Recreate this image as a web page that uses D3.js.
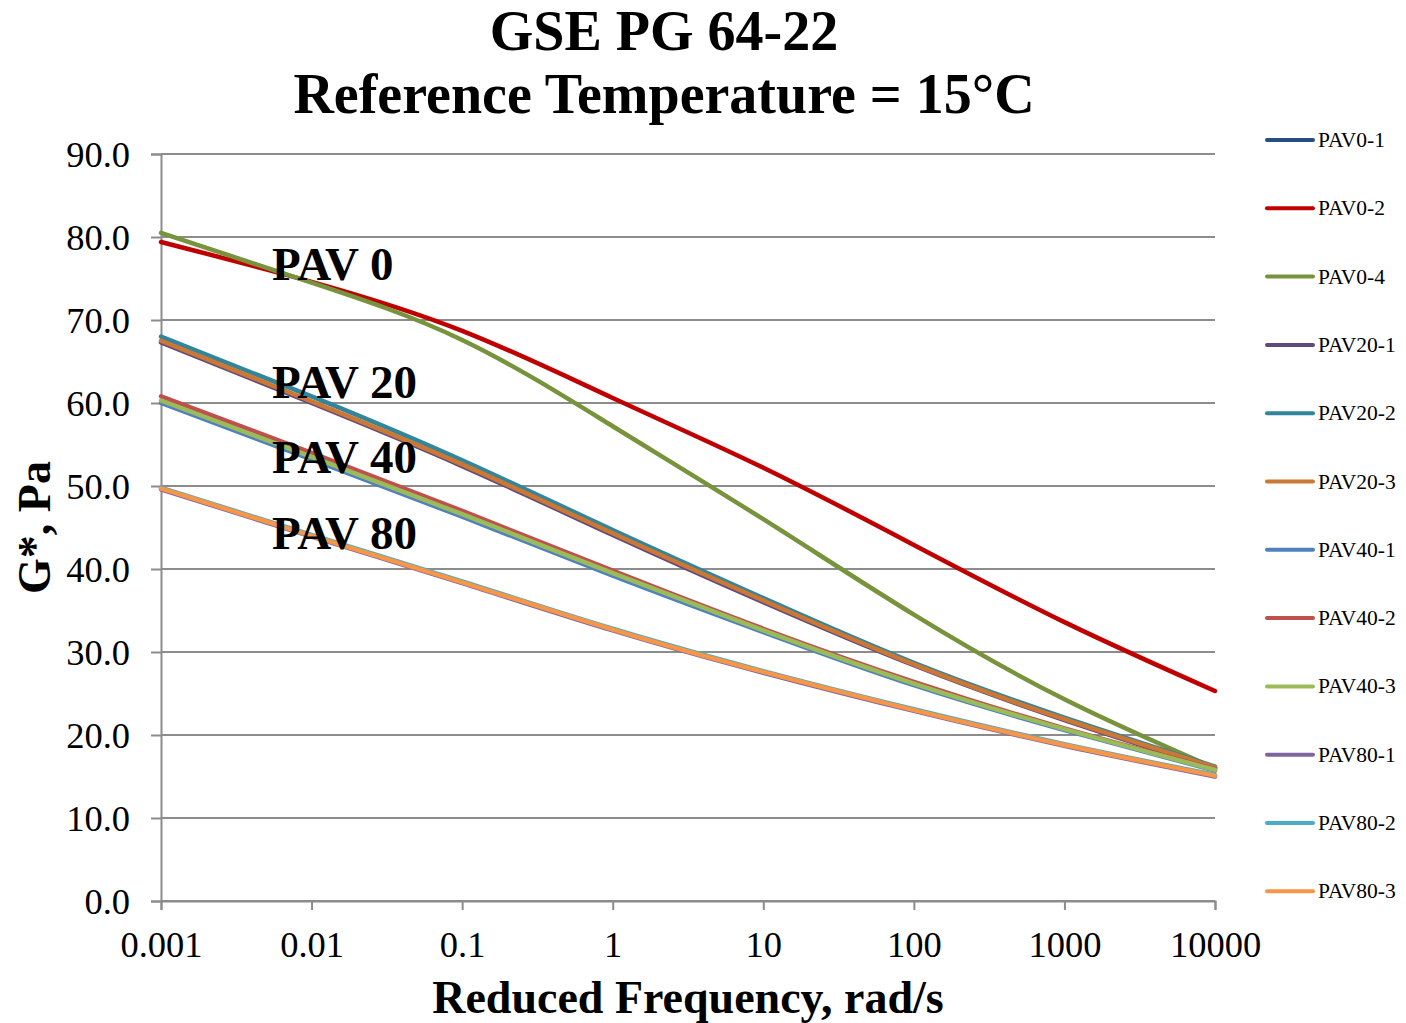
<!DOCTYPE html>
<html>
<head>
<meta charset="utf-8">
<script src="https://cdn.jsdelivr.net/npm/d3@7"></script>
<style>
  body { margin: 0; background: #fff; }
  svg { display: block; font-family: "Liberation Serif", "Times New Roman", serif; }
</style>
</head>
<body>
<svg id="chart" width="1406" height="1023"></svg>
<script>
// reduced frequencies (rad/s) where values were read
const freqs = [0.001, 0.01, 0.1, 1, 10, 100, 1000, 10000];

// G* readings per sample
const pav0_1 = [];  // listed in legend, no visible curve
const pav0_2 = [79.4, 74.6, 68.7, 60.6, 52.2, 42.9, 33.6, 25.3];
const pav0_4 = [80.5, 74.5, 67.6, 57.2, 46.0, 34.5, 24.3, 16.0];
const pav20_1 = [67.3, 60.0, 52.4, 44.1, 36.0, 28.4, 21.8, 16.0];
const pav20_2 = [68.0, 60.8, 53.1, 44.7, 36.5, 28.7, 22.1, 16.2];
const pav20_3 = [67.5, 60.2, 52.6, 44.3, 36.2, 28.5, 21.9, 16.1];
const pav40_1 = [60.0, 53.2, 46.3, 39.2, 32.4, 26.0, 20.6, 15.7];
const pav40_2 = [60.8, 54.0, 47.0, 39.8, 32.8, 26.4, 20.8, 15.9];
const pav40_3 = [60.3, 53.5, 46.6, 39.5, 32.6, 26.2, 20.7, 15.8];
const pav80_1 = [49.6, 43.9, 38.3, 32.6, 27.5, 22.9, 18.7, 15.0];
const pav80_2 = [49.8, 44.1, 38.5, 32.8, 27.7, 23.1, 18.9, 15.2];
const pav80_3 = [49.7, 44.0, 38.4, 32.7, 27.6, 23.0, 18.8, 15.1];

const seriesNames = ['PAV0-1', 'PAV0-2', 'PAV0-4', 'PAV20-1', 'PAV20-2', 'PAV20-3',
                     'PAV40-1', 'PAV40-2', 'PAV40-3', 'PAV80-1', 'PAV80-2', 'PAV80-3'];
const seriesValues = [pav0_1, pav0_2, pav0_4, pav20_1, pav20_2, pav20_3,
                      pav40_1, pav40_2, pav40_3, pav80_1, pav80_2, pav80_3];
const seriesColors = ['#254F80', '#C00000', '#77933C', '#604A7B', '#31859C', '#CC7733',
                      '#4F81BD', '#C0504D', '#9BBB59', '#8064A2', '#4BACC6', '#F79646'];

const yTicks = [0, 10, 20, 30, 40, 50, 60, 70, 80, 90];
const xTicks = [0.001, 0.01, 0.1, 1, 10, 100, 1000, 10000];
const xTickLabels = ['0.001', '0.01', '0.1', '1', '10', '100', '1000', '10000'];

const groupLabels = ['PAV 0', 'PAV 20', 'PAV 40', 'PAV 80'];

const svg = d3.select('#chart');
const plot = { left: 161, right: 1215, top: 154, bottom: 901 };

const x = d3.scaleLog().domain([0.001, 10000]).range([plot.left, plot.right]);
const y = d3.scaleLinear().domain([0, 90]).range([plot.bottom, plot.top]);

// gridlines
svg.append('g')
    .selectAll('line')
    .data(yTicks)
    .join('line')
    .attr('x1', plot.left)
    .attr('x2', plot.right)
    .attr('y1', d => y(d))
    .attr('y2', d => y(d))
    .attr('stroke', '#8c8c8c')
    .attr('stroke-width', 2);

// y axis
const yAxis = svg.append('g')
    .attr('transform', `translate(${plot.left},0)`)
    .call(d3.axisLeft(y).tickValues(yTicks).tickSize(10).tickPadding(21).tickFormat(d3.format('.1f')));
yAxis.select('.domain').attr('stroke', '#8c8c8c').attr('stroke-width', 2);
yAxis.selectAll('.tick line').attr('stroke', '#8c8c8c').attr('stroke-width', 2);
yAxis.selectAll('.tick text')
    .attr('font-family', '"Liberation Serif", "Times New Roman", serif')
    .attr('font-size', 36.5)
    .attr('fill', '#000')
    .attr('dy', '0.33em');

// x axis
const xAxis = svg.append('g')
    .attr('transform', `translate(0,${plot.bottom})`)
    .call(d3.axisBottom(x).tickValues(xTicks).tickSize(9).tickPadding(21)
        .tickFormat((d, i) => xTickLabels[i]));
xAxis.select('.domain').attr('stroke', '#8c8c8c').attr('stroke-width', 2);
xAxis.selectAll('.tick line').attr('stroke', '#8c8c8c').attr('stroke-width', 2);
xAxis.selectAll('.tick text')
    .attr('font-family', '"Liberation Serif", "Times New Roman", serif')
    .attr('font-size', 36.5)
    .attr('fill', '#000');

// curves
const line = d3.line()
    .x((d, i) => x(freqs[i]))
    .y(d => y(d))
    .curve(d3.curveNatural);

svg.append('g')
    .selectAll('path')
    .data(seriesValues)
    .join('path')
    .attr('d', d => d.length ? line(d) : null)
    .attr('fill', 'none')
    .attr('stroke', (d, i) => seriesColors[i])
    .attr('stroke-width', 4.5)
    .attr('stroke-linejoin', 'round')
    .attr('stroke-linecap', 'round');

// group labels inside the plot
const labelBaselines = [280, 398, 473, 549];
svg.append('g')
    .selectAll('text')
    .data(groupLabels)
    .join('text')
    .attr('x', 272)
    .attr('y', (d, i) => labelBaselines[i])
    .attr('font-size', 47)
    .attr('font-weight', 'bold')
    .text(d => d);

// titles
svg.append('text')
    .attr('x', 664)
    .attr('y', 50)
    .attr('text-anchor', 'middle')
    .attr('font-size', 56)
    .attr('font-weight', 'bold')
    .text('GSE PG 64-22');

svg.append('text')
    .attr('x', 664)
    .attr('y', 113)
    .attr('text-anchor', 'middle')
    .attr('font-size', 56)
    .attr('font-weight', 'bold')
    .text('Reference Temperature = 15°C');

svg.append('text')
    .attr('x', (plot.left + plot.right) / 2)
    .attr('y', 1013)
    .attr('text-anchor', 'middle')
    .attr('font-size', 46)
    .attr('font-weight', 'bold')
    .text('Reduced Frequency, rad/s');

svg.append('text')
    .attr('transform', `translate(50,${(plot.top + plot.bottom) / 2}) rotate(-90)`)
    .attr('text-anchor', 'middle')
    .attr('font-size', 46)
    .attr('font-weight', 'bold')
    .text('G*, Pa');

// legend
const legend = svg.append('g').attr('transform', 'translate(1267,140)');
seriesNames.forEach((name, i) => {
    const item = legend.append('g').attr('transform', `translate(0,${i * 68.3})`);
    item.append('line')
        .attr('x1', 0).attr('x2', 46)
        .attr('y1', 0).attr('y2', 0)
        .attr('stroke', seriesColors[i])
        .attr('stroke-width', 4)
        .attr('stroke-linecap', 'round');
    item.append('text')
        .attr('x', 51)
        .attr('y', 7)
        .attr('font-size', 21.5)
        .text(name);
});
</script>
</body>
</html>
